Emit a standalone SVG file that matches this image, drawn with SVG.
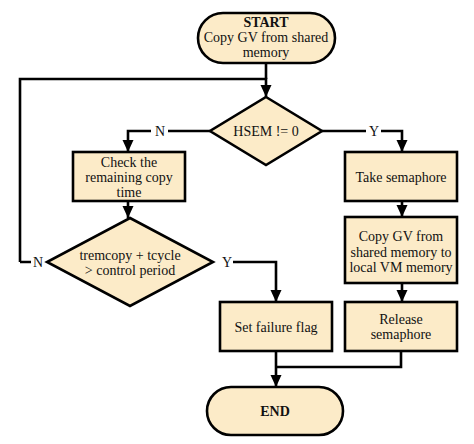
<svg xmlns="http://www.w3.org/2000/svg" width="474" height="444" viewBox="0 0 474 444">
<style>
.n{fill:#FCEBC8;stroke:#000;stroke-width:2.6}
.c{fill:none;stroke:#000;stroke-width:2.6}
text{font-family:"Liberation Serif","Times New Roman",serif;font-size:14px;fill:#111;text-anchor:middle}
.b{font-weight:bold}
</style>
<defs>
<marker id="ah" markerUnits="userSpaceOnUse" markerWidth="14" markerHeight="14" viewBox="0 0 14 14" refX="12" refY="7" orient="auto">
<path d="M0,1.5 L12,7 L0,12.5 Z" fill="#000"/>
</marker>
</defs>
<rect width="474" height="444" fill="#fff"/>
<g id="connectors">
<path class="c" d="M266,63 V79"/>
<path class="c" d="M20,262 H31 M20,262 V79 H266 V97" marker-end="url(#ah)"/>
<path class="c" d="M210,131 H168 M151,131 H128 V152" marker-end="url(#ah)"/>
<path class="c" d="M322,131 H366 M381,131 H402 V152" marker-end="url(#ah)"/>
<path class="c" d="M128,201 V218" marker-end="url(#ah)"/>
<path class="c" d="M402,201 V217" marker-end="url(#ah)"/>
<path class="c" d="M402,283 V302" marker-end="url(#ah)"/>
<path class="c" d="M233,262 H276 V302" marker-end="url(#ah)"/>
<path class="c" d="M401,351 V367 H276"/>
<path class="c" d="M276,351 V387" marker-end="url(#ah)"/>
<text x="160" y="136">N</text>
<text x="374" y="136">Y</text>
<text x="38" y="267">N</text>
<text x="227" y="267">Y</text>
</g>
<g id="start">
<rect class="n" x="198" y="13" width="137" height="50" rx="25"/>
<text class="b" x="266" y="27">START</text>
<text x="266" y="42">Copy GV from shared</text>
<text x="266" y="57">memory</text>
</g>
<g id="hsem">
<path class="n" d="M266,97 L322,131 L266,165 L210,131 Z"/>
<text x="266" y="136">HSEM != 0</text>
</g>
<g id="check">
<rect class="n" x="73" y="152" width="112" height="49"/>
<text x="129" y="167">Check the</text>
<text x="129" y="182">remaining copy</text>
<text x="129" y="197">time</text>
</g>
<g id="take">
<rect class="n" x="345" y="152" width="112" height="49"/>
<text x="401" y="182">Take semaphore</text>
</g>
<g id="cond">
<path class="n" d="M130,218 L213,262 L130,306 L47,262 Z"/>
<text x="130" y="260">tremcopy + tcycle</text>
<text x="130" y="275">&gt; control period</text>
</g>
<g id="copy">
<rect class="n" x="345" y="217" width="112" height="66"/>
<text x="401" y="241">Copy GV from</text>
<text x="401" y="257">shared memory to</text>
<text x="401" y="272">local VM memory</text>
</g>
<g id="fail">
<rect class="n" x="220" y="302" width="112" height="49"/>
<text x="276" y="332">Set failure flag</text>
</g>
<g id="release">
<rect class="n" x="345" y="302" width="112" height="49"/>
<text x="401" y="324">Release</text>
<text x="401" y="339">semaphore</text>
</g>
<g id="end">
<rect class="n" x="207" y="387" width="136" height="48" rx="24"/>
<text class="b" x="275" y="416">END</text>
</g>
</svg>
